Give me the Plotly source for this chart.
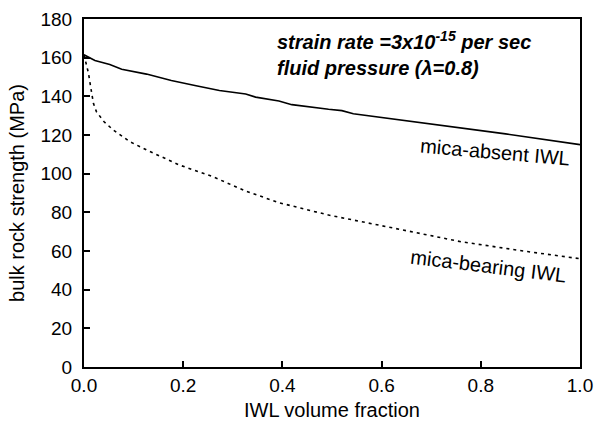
import plotly.graph_objects as go

# IWL volume fraction vs bulk rock strength
absent_x = [0.0, 0.022, 0.052, 0.076, 0.126, 0.176, 0.226, 0.273, 0.326, 0.346,
            0.393, 0.419, 0.493, 0.52, 0.543, 0.65, 0.75, 0.85, 1.0]
absent_y = [161.5, 158.5, 156.5, 154.0, 151.5, 148.2, 145.5, 143.0, 141.2, 139.6,
            137.6, 135.7, 133.3, 132.6, 131.0, 127.5, 124.2, 120.6, 115.0]

bearing_x = [0.0, 0.005, 0.009, 0.014, 0.019, 0.025, 0.04, 0.059, 0.092, 0.126,
             0.192, 0.259, 0.326, 0.393, 0.493, 0.627, 0.76, 0.894, 1.0]
bearing_y = [161.5, 157.0, 152.0, 144.0, 136.4, 132.1, 127.0, 122.6, 116.6, 112.3,
             104.5, 98.5, 91.0, 85.0, 78.6, 71.7, 64.8, 59.7, 56.0]

font_name = "Liberation Sans"

fig = go.Figure()
fig.add_trace(go.Scatter(x=absent_x, y=absent_y, mode="lines",
                         line=dict(color="black", width=1.6), name="mica-absent IWL"))
fig.add_trace(go.Scatter(x=bearing_x, y=bearing_y, mode="lines",
                         line=dict(color="black", width=1.6, dash="3px,4px"),
                         name="mica-bearing IWL"))

## text labels on the curves and the conditions box
fig.add_annotation(x=0.828, y=111, text="mica-absent IWL", showarrow=False,
                   textangle=5, font=dict(family=font_name, size=20, color="black"))
fig.add_annotation(x=0.815, y=52, text="mica-bearing IWL", showarrow=False,
                   textangle=7, font=dict(family=font_name, size=20, color="black"))
fig.add_annotation(x=0.385, y=176.5, xanchor="left", yanchor="top", align="left",
                   text="<b><i>strain rate =3x10<sup>-15</sup> per sec<br>"
                        "fluid pressure (λ=0.8)</i></b>",
                   showarrow=False, font=dict(family=font_name, size=20, color="black"))

fig.update_layout(
    width=603, height=423,
    margin=dict(l=84, r=23, t=19, b=56),
    paper_bgcolor="white", plot_bgcolor="white",
    showlegend=False,
    font=dict(family=font_name, color="black"),
)
fig.update_xaxes(range=[0, 1.0], tickvals=[0, 0.2, 0.4, 0.6, 0.8, 1.0],
                 ticktext=["0.0", "0.2", "0.4", "0.6", "0.8", "1.0"],
                 ticks="inside", ticklen=6, tickwidth=1.5, tickcolor="black",
                 showline=True, linecolor="black", linewidth=2, mirror=True,
                 showgrid=False, zeroline=False, automargin=False,
                 tickfont=dict(size=19), title=dict(text="IWL volume fraction",
                                                    font=dict(size=20), standoff=8))
fig.update_yaxes(range=[0, 180], dtick=20,
                 ticks="inside", ticklen=6, tickwidth=1.5, tickcolor="black",
                 showline=True, linecolor="black", linewidth=2, mirror=True,
                 showgrid=False, zeroline=False, automargin=False,
                 ticklabelstandoff=6,
                 tickfont=dict(size=19), title=dict(text="bulk rock strength (MPa)",
                                                    font=dict(size=20), standoff=10))

## page body has a default 8px margin, drop it so the figure sits at 0,0
fig.write_html("out.html", config={"displayModeBar": False},
               post_script="document.body.style.margin='0';")
